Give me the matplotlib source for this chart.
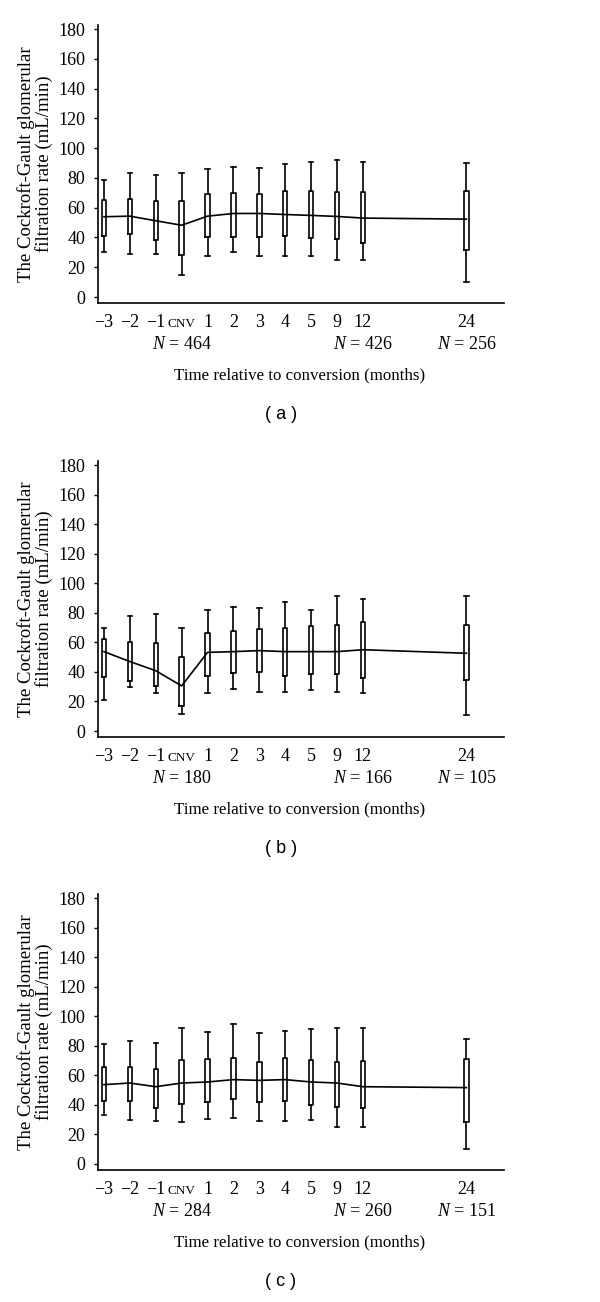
import matplotlib.pyplot as plt
from matplotlib.transforms import offset_copy

plt.rcParams['font.family'] = 'Liberation Serif'
plt.rcParams['mathtext.fontset'] = 'custom'
plt.rcParams['mathtext.rm'] = 'Liberation Serif'
plt.rcParams['mathtext.it'] = 'Liberation Serif:italic'

# time points (months relative to conversion)
months = ['\u22123', '\u22122', '\u22121', 'CNV', '1', '2', '3', '4', '5', '9', '12', '24']
x_pos = list(range(11)) + [14]
n_at = ['CNV', '12', '24']

# panel (a)
hi_a = [78.5, 83, 81.7, 83, 86.2, 87.5, 86.6, 89.1, 90.4, 92, 90.4, 89.8]
q3_a = [65, 65.5, 64.4, 64.4, 69.1, 70, 69.3, 71.1, 71.1, 70.2, 70.5, 71.1]
mid_a = [53.9, 54.3, 51.2, 48.2, 54.3, 56.1, 56.1, 55.4, 54.8, 54.1, 53, 52.3]
q1_a = [41.3, 42, 38, 28.5, 40.6, 40.6, 40.6, 41.3, 39.5, 39, 36.6, 31.9]
lo_a = [30.3, 29.2, 28.7, 14.6, 27.4, 30.3, 27.4, 27.4, 27.4, 25.1, 25.1, 10.1]
n_a = [464, 426, 256]

# panel (b)
hi_b = [69.9, 78, 79.2, 69.9, 81.9, 83.7, 83, 87.3, 81.9, 91.4, 89.1, 91.6]
q3_b = [62, 60.5, 59.8, 50.1, 66.1, 67.7, 68.8, 69.9, 71.3, 71.7, 74, 71.7]
mid_b = [53.7, 47, 40.8, 30.5, 53.2, 53.7, 54.4, 53.7, 53.7, 53.7, 55, 52.6]
q1_b = [36.8, 33.6, 30.7, 16.9, 37.2, 39, 39.7, 37.2, 38.3, 38.3, 35.6, 34.5]
lo_b = [21, 29.5, 25.5, 11.5, 25.9, 28.6, 26.6, 26.6, 27.7, 26.6, 25.5, 10.8]
n_b = [180, 166, 105]

# panel (c)
hi_c = [81.2, 83, 81.7, 92, 89.1, 95, 88.4, 90.2, 91.4, 91.8, 91.8, 84.6]
q3_c = [65.9, 65.4, 64.3, 70.2, 70.8, 71.5, 68.8, 71.5, 70.2, 69, 69.7, 71]
mid_c = [53.7, 54.8, 52.3, 54.8, 55.5, 57.1, 56.6, 57.1, 55.5, 54.8, 52.3, 51.7]
q1_c = [42.9, 42.9, 37.9, 40.6, 42, 44, 42, 42.9, 40.2, 38.8, 37.9, 28.2]
lo_c = [32.9, 29.6, 28.9, 28.2, 30.7, 31.4, 28.9, 28.9, 29.6, 24.8, 24.8, 10.2]
n_c = [284, 260, 151]

panels = [
    ('a', lo_a, q1_a, mid_a, q3_a, hi_a, n_a, 297, 29),
    ('b', lo_b, q1_b, mid_b, q3_b, hi_b, n_b, 731, 465),
    ('c', lo_c, q1_c, mid_c, q3_c, hi_c, n_c, 1164, 898),
]

W, H = 600, 1302
fig = plt.figure(figsize=(W / 100, H / 100), dpi=100)
ylo, yhi = -4, 183

for letter, lo, q1, mid, q3, hi, ns, p0, p180 in panels:
    s = (p0 - p180) / 180.0
    bot = p0 - ylo * s
    top = p180 - (yhi - 180) * s
    ax = fig.add_axes([98 / W, 1 - bot / H, 406 / W, (bot - top) / H])

    stats = []
    for i in range(len(months)):
        stats.append(dict(whislo=lo[i], q1=q1[i], med=mid[i], q3=q3[i],
                          whishi=hi[i], fliers=[]))
    ax.bxp(stats, positions=x_pos, widths=0.17, capwidths=0.17,
           showfliers=False,
           boxprops=dict(color='black', linewidth=1.2),
           whiskerprops=dict(color='black', linewidth=1.2),
           capprops=dict(color='black', linewidth=1.2),
           medianprops=dict(visible=False))
    ax.plot(x_pos, mid, color='black', linewidth=1.2)

    ax.set_xlim(-0.23, 15.45)
    ax.set_ylim(ylo, yhi)
    ax.set_yticks(range(0, 181, 20))
    ax.set_xticks(x_pos)
    ax.set_xticklabels(months)
    ax.tick_params(axis='x', length=0, pad=17, labelsize=13)
    ax.tick_params(axis='y', length=3, width=1, pad=6, labelsize=13)
    for lbl in ax.get_xticklabels():
        lbl.set_verticalalignment('baseline')
    ax.get_xticklabels()[3].set_fontsize(9.5)
    for side in ['top', 'right']:
        ax.spines[side].set_visible(False)
    for side in ['left', 'bottom']:
        ax.spines[side].set_linewidth(1.2)

    for lab, n in zip(n_at, ns):
        xi = x_pos[months.index(lab)]
        tr = offset_copy(ax.get_xaxis_transform(), fig=fig, x=0, y=-42 * 0.72, units='points')
        ax.text(xi, 0, f'$N$ = {n}', transform=tr, ha='center', va='center', fontsize=13)

    ax.set_ylabel('The Cockroft-Gault glomerular\nfiltration rate (mL/min)',
                  fontsize=13.5, linespacing=1.02)
    ax.yaxis.label.set_verticalalignment('center')
    ax.yaxis.set_label_coords(-63 / 406, 0.5)
    fig.text(300 / W, 1 - (bot + 72) / H, 'Time relative to conversion (months)',
             ha='center', va='center', fontsize=12.2)
    fig.text(281 / W, 1 - (bot + 112) / H, f'( {letter} )',
             ha='center', va='center', fontsize=13, family='Liberation Sans')

fig.savefig('out.png', dpi=100)
